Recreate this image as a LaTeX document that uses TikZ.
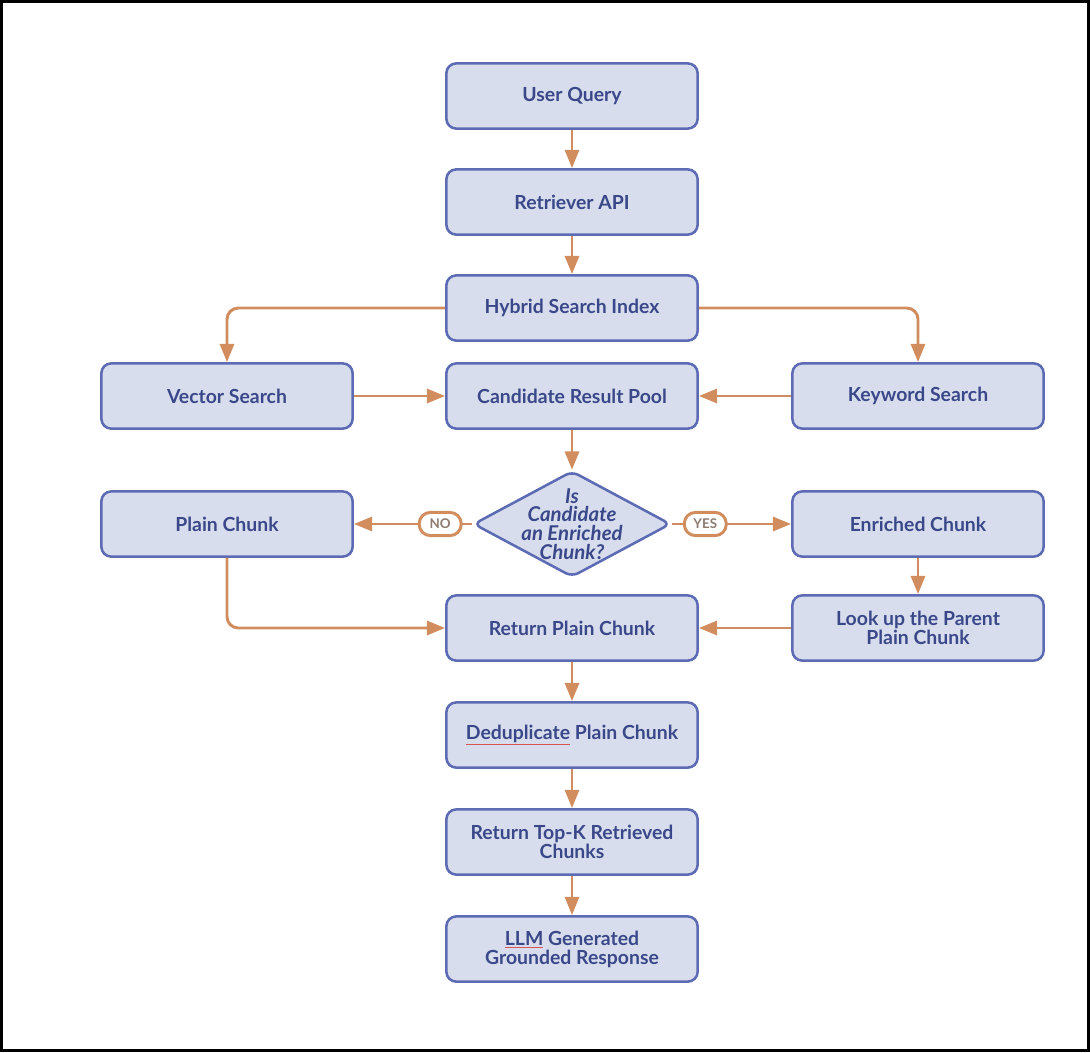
\documentclass[tikz,border=0pt]{standalone}
\usepackage{fontspec}
\setmainfont{Lato}
\usetikzlibrary{shapes.geometric,arrows.meta}
\definecolor{boxfill}{HTML}{D8DDEE}
\definecolor{boxline}{HTML}{5C6BB3}
\definecolor{boxtext}{HTML}{3A4889}
\definecolor{flow}{HTML}{D28D5E}
\definecolor{pilltext}{HTML}{8C7B70}
\definecolor{spell}{HTML}{D9534F}
\newcommand{\spellmark}[1]{\textcolor{spell}{\underline{\textcolor{boxtext}{#1}}}}
\begin{document}
\begin{tikzpicture}[x=0.025cm, y=-0.025cm,
  every node/.style={font=\fontsize{13.8}{13.5}\selectfont\bfseries, text=boxtext},
  box/.style={draw=boxline, fill=boxfill, line width=1.8pt, rounded corners=7pt, minimum width=6.28cm, minimum height=1.63cm, align=center},
  ask/.style={diamond, draw=boxline, fill=boxfill, line width=1.8pt, rounded corners=5pt, inner sep=-0.6cm, minimum width=4.93cm, minimum height=2.65cm, align=center, font=\fontsize{14.5}{13.3}\selectfont\bfseries\itshape},
  pill/.style={draw=flow, fill=white, line width=2.1pt, rounded corners=8pt, minimum width=1.05cm, minimum height=0.58cm, inner sep=1pt, font=\fontsize{9.5}{9.5}\selectfont\bfseries, text=pilltext},
  flowline/.style={draw=flow, line width=2.1pt, -{Triangle[length=13pt,width=10pt]}, rounded corners=8pt}]
\useasboundingbox (0,0) rectangle (1090,1052);
% frame
\draw[black, line width=2.1pt] (1.5,1.5) rectangle (1088.5,1050.5);
% main column
\node[box] (query) at (572,96) {User Query};
\node[box] (api) at (572,202) {Retriever API};
\node[box] (hybrid) at (572,308) {Hybrid Search Index};
\node[box] (vector) at (227,396) {Vector Search};
\node[box] (pool) at (572,396) {Candidate Result Pool};
\node[box] (keyword) at (918,396) {Keyword Search};
\node[ask] (isenr) at (572,524) {Is\\Candidate\\an Enriched\\Chunk?};
\node[box] (plain) at (227,524) {Plain Chunk};
\node[box] (enriched) at (918,524) {Enriched Chunk};
\node[box] (retplain) at (572,628) {Return Plain Chunk};
\node[box] (parent) at (918,628) {Look up the Parent\\Plain Chunk};
\node[box] (dedup) at (572,735) {\spellmark{Deduplicate} Plain Chunk};
\node[box] (topk) at (572,842) {Return Top-K Retrieved\\Chunks};
\node[box] (llm) at (572,949) {\spellmark{LLM} Generated\\Grounded Response};
% connectors
\draw[flowline] (query) -- (api);
\draw[flowline] (api) -- (hybrid);
\draw[flowline] (hybrid.west) -| (vector.north);
\draw[flowline] (hybrid.east) -| (keyword.north);
\draw[flowline] (vector) -- (pool);
\draw[flowline] (keyword) -- (pool);
\draw[flowline] (pool) -- (isenr);
\draw[flowline] (isenr.west) -- (plain.east) node[pill, pos=0.27] (no) {NO};
\draw[flowline] (isenr.east) -- (enriched.west) node[pill, pos=0.28] (yes) {YES};
\draw[flowline] (enriched) -- (parent);
\draw[flowline] (plain.south) |- (retplain.west);
\draw[flowline] (parent) -- (retplain);
\draw[flowline] (retplain) -- (dedup);
\draw[flowline] (dedup) -- (topk);
\draw[flowline] (topk) -- (llm);
\end{tikzpicture}
\end{document}
